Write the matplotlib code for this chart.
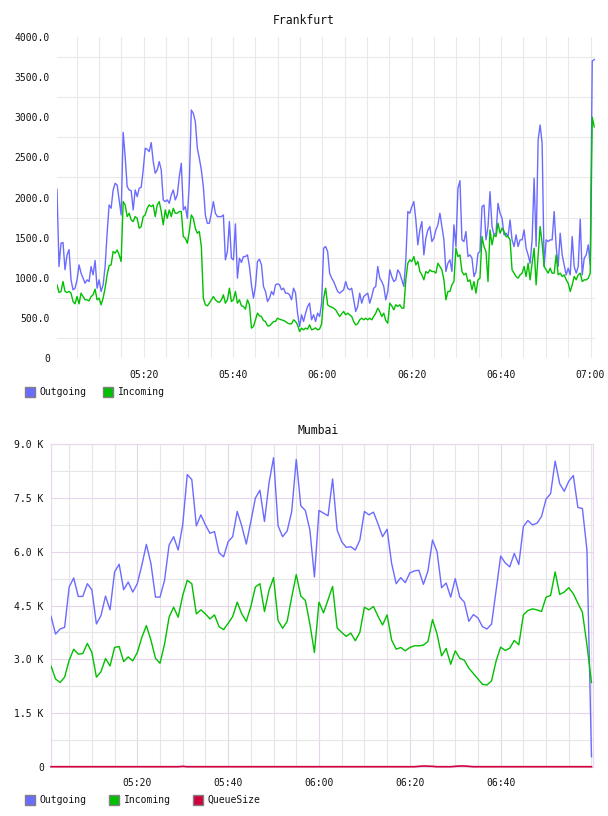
import numpy as np
import pandas as pd
import matplotlib
matplotlib.use("Agg")
import matplotlib.pyplot as plt
import matplotlib.dates as mdates
from matplotlib.patches import Rectangle
from matplotlib.ticker import FixedLocator, FuncFormatter

# ---------------- data ----------------
fr_start = "2024-01-01 05:00:38"
fr_end = "2024-01-01 07:00:50"

fr_outgoing = [
    2103, 1140, 1430, 1440, 1100, 1285, 1350, 974, 850, 870, 974, 1160, 1057, 995, 932, 974, 953, 1140, 1036, 1215,
    870, 974, 829, 912, 1140, 1555, 1907, 1866, 2094, 2177, 2156, 1970, 1783, 2812, 2509, 2136, 2094, 2086, 1845, 2094,
    2011, 2115, 2127, 2343, 2613, 2601, 2572, 2684, 2447, 2302, 2343, 2447, 2343, 1970, 1949, 1970, 1928, 2032, 2094, 1970,
    2032, 2260, 2426, 1845, 1887, 1741, 2177, 3090, 3049, 2945, 2613, 2488, 2343, 2136, 1783, 1679, 1679, 1804, 1949, 1804,
    1762, 1762, 1762, 1783, 1223, 1327, 1700, 1244, 1223, 1671, 995, 1244, 1190, 1264, 1264, 1285, 1140, 912, 746, 891,
    1202, 1231, 1160, 891, 829, 704, 746, 829, 787, 912, 924, 912, 850, 870, 808, 808, 787, 725, 870, 808,
    559, 393, 538, 455, 559, 642, 683, 476, 538, 455, 559, 517, 683, 1368, 1389, 1327,
    1057, 995, 953, 891, 829, 808, 829, 850, 953, 870, 850, 870, 725, 580, 642, 808, 683, 766, 787, 808,
    683, 766, 870, 891, 1140, 995, 953, 891, 725, 829, 1098, 1015, 953, 974, 1098, 1057, 974, 891, 1223, 1825,
    1804, 1887, 1949, 1721, 1410, 1596, 1700, 1285, 1493, 1596, 1638, 1451, 1493, 1596, 1659, 1804, 1638, 1472, 1078, 1181,
    1223, 1078, 1659, 1389, 2115, 2210, 1472, 1451, 1576, 1264, 1285, 1244, 1015, 1078, 1306, 1327, 1887, 1907, 1472, 1638,
    2073, 1638, 1534, 1555, 1928, 1804, 1741, 1534, 1555, 1513, 1721, 1472, 1389, 1534, 1389, 1472, 1472, 1596, 1368, 1285,
    1181, 1472, 2240, 1389, 2717, 2903, 2675, 1140, 1472, 1451, 1472, 1472, 1825, 1389, 1140, 1555, 1285, 1160, 1036, 1119,
    1036, 1513, 1140, 1057, 1140, 1729, 1036, 1244, 1285, 1410, 1160, 3700, 3720,
]
fr_incoming = [
    911, 816, 829, 953, 829, 816, 829, 808, 704, 675, 766, 675, 808, 766, 725, 725, 712, 766, 787, 858,
    725, 746, 663, 746, 870, 1036, 1152, 1160, 1327, 1306, 1347, 1285, 1202, 1949, 1907, 1762, 1804, 1721, 1700, 1762,
    1741, 1617, 1638, 1762, 1783, 1866, 1907, 1887, 1907, 1762, 1907, 1949, 1825, 1659, 1845, 1741, 1845, 1762, 1866, 1804,
    1804, 1825, 1825, 1513, 1493, 1430, 1576, 1783, 1741, 1617, 1555, 1576, 1389, 746, 663, 650, 683, 725, 766, 725,
    704, 692, 725, 787, 683, 725, 870, 704, 725, 829, 683, 725, 650, 642, 609, 725, 663, 372, 393, 476,
    559, 526, 517, 467, 455, 401, 401, 426, 455, 455, 496, 484, 476, 467, 455, 434, 426, 426, 476, 455,
    413, 330, 372, 351, 372, 360, 413, 351, 360, 376, 351, 360, 426, 746, 870, 663,
    642, 634, 621, 600, 559, 517, 550, 580, 538, 559, 538, 517, 455, 413, 426, 476, 496, 476, 496, 476,
    496, 476, 517, 559, 621, 580, 517, 559, 467, 434, 683, 650, 600, 663, 642, 663, 621, 621, 974, 1181,
    1223, 1202, 1264, 1160, 1202, 1078, 1036, 974, 1078, 1057, 1098, 1078, 1078, 1057, 1181, 1140, 1098, 974, 725, 829,
    829, 912, 953, 1370, 1264, 1285, 1078, 1036, 1057, 953, 974, 850, 953, 808, 974, 995, 1513, 1389, 1327, 953,
    1596, 1410, 1534, 1513, 1679, 1555, 1617, 1576, 1513, 1513, 1472, 1098, 1057, 1015, 995, 1036, 1057, 1140, 1015, 1181,
    974, 1181, 1368, 912, 1285, 1638, 1430, 1140, 1098, 1057, 1119, 1057, 1057, 1285, 1036, 1057, 1015, 1036, 974, 932,
    829, 912, 1015, 974, 1036, 1057, 953, 974, 974, 995, 1057, 3000, 2880,
]

mu_start = "2024-01-01 05:01"
mu_outgoing = [
    4200, 3703, 3844, 3890, 5016, 5269, 4753, 4753, 5109, 4940, 3984, 4219, 4763, 4378, 5437, 5653, 4940, 5156, 4875, 5109,
    5625, 6206, 5672, 4734, 4734, 5203, 6188, 6422, 6047, 6750, 8156, 8016, 6722, 7031, 6750, 6516, 6563, 5972, 5859, 6281,
    6422, 7125, 6722, 6216, 6844, 7500, 7716, 6844, 7922, 8625, 6722, 6422, 6581, 7125, 8578, 7284, 7153, 6609, 5297, 7153,
    7078, 7003, 8034, 6609, 6281, 6122, 6141, 6047, 6328, 7125, 7031, 7106, 6778, 6422, 6628, 5672, 5109, 5278, 5138, 5409,
    5466, 5484, 5091, 5466, 6328, 6000, 4997, 5128, 4734, 5250, 4734, 4594, 4059, 4247, 4153, 3909, 3844, 3984, 4922, 5878,
    5691, 5578, 5953, 5644, 6703, 6872, 6750, 6797, 6984, 7472, 7622, 8531, 7903, 7688, 7969, 8128, 7238, 7209, 6047, 280,
]
mu_incoming = [
    2813, 2450, 2350, 2500, 2972, 3281, 3141, 3159, 3441, 3188, 2500, 2650, 3019, 2813, 3328, 3356, 2934, 3066, 2953, 3188,
    3609, 3938, 3534, 3028, 2888, 3422, 4172, 4453, 4172, 4781, 5203, 5109, 4266, 4378, 4266, 4125, 4238, 3909, 3825, 4003,
    4191, 4594, 4266, 4059, 4472, 5016, 5109, 4331, 4922, 5278, 4078, 3863, 4059, 4734, 5363, 4763, 4641, 3984, 3188, 4594,
    4294, 4659, 5034, 3872, 3750, 3638, 3731, 3516, 3750, 4453, 4378, 4472, 4200, 3956, 4238, 3534, 3281, 3328, 3234, 3328,
    3375, 3375, 3394, 3497, 4106, 3703, 3094, 3300, 2859, 3234, 3028, 2972, 2750, 2600, 2450, 2300, 2280, 2400, 2950, 3338,
    3244, 3309, 3525, 3403, 4238, 4359, 4406, 4378, 4331, 4734, 4781, 5438, 4809, 4875, 4997, 4828, 4566, 4313, 3400, 2350,
]
mu_queue = [
    0, 0, 0, 0, 0, 0, 0, 0, 0, 0, 0, 0, 0, 0, 0, 0, 0, 0, 0, 0,
    0, 0, 0, 0, 0, 0, 0, 0, 0, 10, 0, 0, 0, 0, 0, 0, 0, 0, 0, 0,
    0, 0, 0, 0, 0, 0, 0, 0, 0, 0, 0, 0, 0, 0, 0, 0, 0, 0, 0, 0,
    0, 0, 0, 0, 0, 0, 0, 0, 0, 0, 0, 0, 0, 0, 0, 0, 0, 0, 0, 0,
    0, 10, 20, 15, 10, 0, 0, 0, 0, 10, 20, 20, 10, 0, 0, 0, 0, 0, 0, 0,
    0, 0, 0, 0, 0, 0, 0, 0, 0, 0, 0, 0, 0, 0, 0, 0, 0, 0, 0, 0,
]

fr_yticks = [0, 500, 1000, 1500, 2000, 2500, 3000, 3500, 4000]
mu_yticks = [0, 1500, 3000, 4500, 6000, 7500, 9000]
fr_xticks = ["05:20", "05:40", "06:00", "06:20", "06:40", "07:00"]
mu_xticks = ["05:20", "05:40", "06:00", "06:20", "06:40"]
series_names = ["Outgoing", "Incoming", "QueueSize"]

# ---------------- style ----------------
C_OUT = "#6b6bff"
C_IN = "#00c000"
C_Q = "#d0003c"
TXT = "#111111"
MONO = "DejaVu Sans Mono"
plt.rcParams["font.family"] = [MONO, "DejaVu Sans"]

W, H = 608, 816
fig = plt.figure(figsize=(W / 100, H / 100), dpi=100)
fig.patch.set_facecolor("white")


def fx(px):
    return px / W


def fy(py):
    return 1 - py / H


def tnum(s):
    return mdates.date2num(pd.Timestamp("2024-01-01 " + s))


# ---------------- Frankfurt ----------------
fr_t = pd.date_range(fr_start, fr_end, periods=len(fr_outgoing))
ax1 = fig.add_axes([fx(57), fy(358), (595 - 57) / W, (358 - 37) / H])
ax1.plot(fr_t, fr_outgoing, color=C_OUT, lw=1.0, zorder=3)
ax1.plot(fr_t, fr_incoming, color=C_IN, lw=1.0, zorder=4)
ax1.set_xlim(mdates.date2num(pd.Timestamp(fr_start)), tnum("07:01:00"))
ax1.set_ylim(0, 4000)
for s in ax1.spines.values():
    s.set_visible(False)
ax1.xaxis.set_major_locator(FixedLocator([tnum(t) for t in fr_xticks]))
ax1.xaxis.set_major_formatter(mdates.DateFormatter("%H:%M"))
ax1.xaxis.set_minor_locator(mdates.MinuteLocator(byminute=range(0, 60, 5)))
ax1.yaxis.set_major_locator(FixedLocator(fr_yticks))
ax1.yaxis.set_major_formatter(FuncFormatter(lambda v, p: "0" if v == 0 else f"{v:.1f}"))
ax1.yaxis.set_minor_locator(FixedLocator(np.arange(250, 4000, 500)))
ax1.grid(True, axis="x", which="both", color="#e9e9e9", lw=0.8, zorder=0)
ax1.grid(True, axis="y", which="minor", color="#e9e9e9", lw=0.8, zorder=0)
ax1.tick_params(which="both", length=0)
ax1.tick_params(axis="y", pad=5, labelsize=7, labelcolor=TXT)
ax1.tick_params(axis="x", pad=9, labelsize=7, labelcolor=TXT)
ax1.set_axisbelow(True)

fig.text(fx(304), fy(21), "Frankfurt", ha="center", va="center", fontsize=8.3, color=TXT)

# ---------------- Mumbai ----------------
mu_t = pd.date_range(mu_start, periods=len(mu_outgoing), freq="1min")
ax2 = fig.add_axes([fx(50.7), fy(766.7), (593.3 - 50.7) / W, (766.7 - 444.3) / H])
ax2.plot(mu_t, mu_outgoing, color=C_OUT, lw=1.0, zorder=3)
ax2.plot(mu_t, mu_incoming, color=C_IN, lw=1.0, zorder=4)
ax2.plot(mu_t, mu_queue, color=C_Q, lw=1.2, zorder=5, clip_on=False)
ax2.set_xlim(tnum("05:00:56"), tnum("07:00:24"))
ax2.set_ylim(0, 9000)
for s in ax2.spines.values():
    s.set_color("#ead8ee")
    s.set_linewidth(0.9)
ax2.xaxis.set_major_locator(FixedLocator([tnum(t) for t in mu_xticks]))
ax2.xaxis.set_major_formatter(mdates.DateFormatter("%H:%M"))
ax2.xaxis.set_minor_locator(mdates.MinuteLocator(byminute=range(0, 60, 5)))
ax2.yaxis.set_major_locator(FixedLocator(mu_yticks))
ax2.yaxis.set_major_formatter(FuncFormatter(lambda v, p: "0" if v == 0 else f"{v / 1000:.1f} K"))
ax2.yaxis.set_minor_locator(FixedLocator(np.arange(750, 9000, 1500)))
ax2.grid(True, which="major", color="#e8d4ec", lw=0.8, zorder=0)
ax2.grid(True, which="minor", color="#e6e6e6", lw=0.8, zorder=0)
ax2.tick_params(which="both", length=0)
ax2.tick_params(axis="y", pad=5, labelsize=7, labelcolor=TXT)
ax2.tick_params(axis="x", pad=8, labelsize=7, labelcolor=TXT)
ax2.set_axisbelow(True)

fig.text(fx(318), fy(430), "Mumbai", ha="center", va="center", fontsize=8.3, color=TXT)


# ---------------- legends ----------------
def legend_item(x_box, x_text, y_c, color, label):
    fig.add_artist(Rectangle((fx(x_box), fy(y_c + 5)), 10 / W, 10 / H, transform=fig.transFigure,
                             facecolor=color, edgecolor="#808080", lw=1.0))
    fig.text(fx(x_text), fy(y_c), label, ha="left", va="center", fontsize=7, color=TXT)


legend_item(24.5, 39, 392, C_OUT, series_names[0])
legend_item(102.5, 118, 392, C_IN, series_names[1])
legend_item(24.5, 39, 800, C_OUT, series_names[0])
legend_item(108.5, 124, 800, C_IN, series_names[1])
legend_item(193, 207.5, 800, C_Q, series_names[2])

fig.savefig("out.png", dpi=100, facecolor="white")
